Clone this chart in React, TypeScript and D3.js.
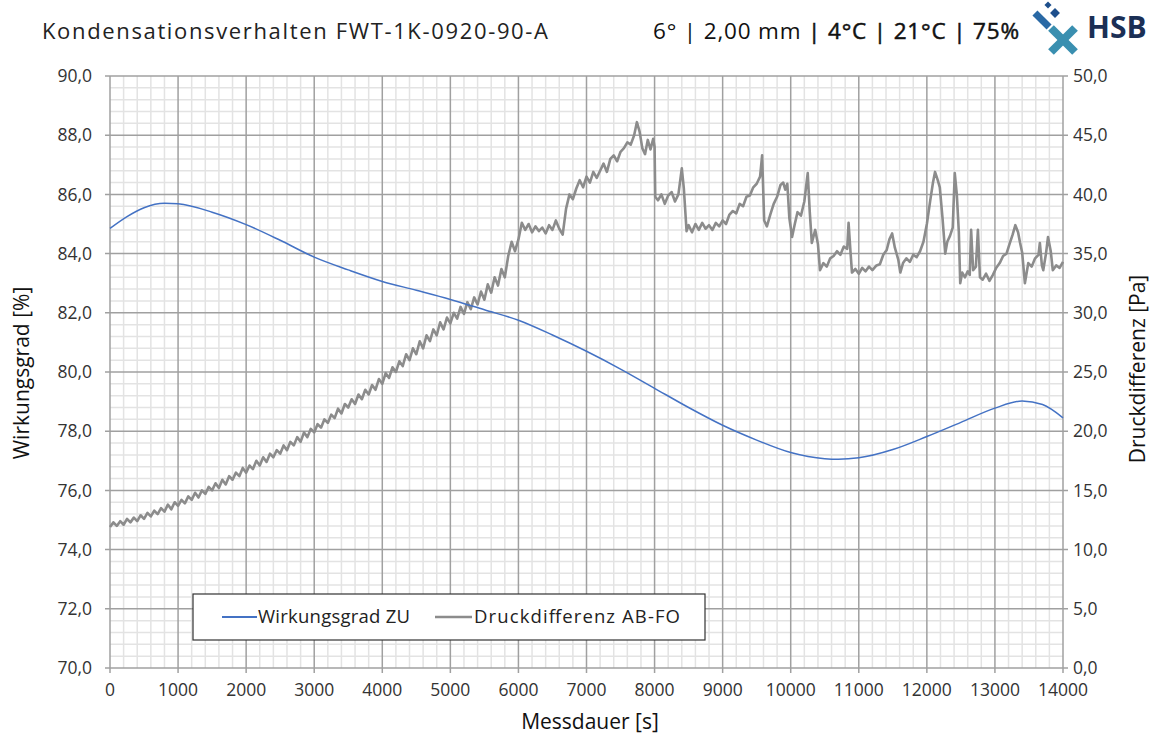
import React from 'react';
import * as d3 from 'd3';

// Wirkungsgrad ZU [%] over Messdauer [s]
const effTime = [0, 250, 500, 800, 1000, 1500, 2000, 2500, 3000, 3500, 4000, 4500, 5000, 5500, 6000, 6500, 7000, 7500, 8000, 8500, 9000, 9500, 10000, 10500, 10700, 11000, 11500, 12000, 12500, 13000, 13400, 13700, 14000];
const effValue = [84.85, 85.25, 85.55, 85.7, 85.68, 85.4, 84.98, 84.45, 83.88, 83.45, 83.06, 82.76, 82.45, 82.1, 81.75, 81.25, 80.7, 80.1, 79.45, 78.8, 78.2, 77.7, 77.28, 77.07, 77.05, 77.1, 77.38, 77.82, 78.3, 78.78, 79.02, 78.9, 78.45];

// Druckdifferenz AB-FO [Pa] over Messdauer [s]
const dpTime = [
  0, 50, 100, 150, 200, 250, 300, 350, 400, 450, 500, 550, 600, 650, 700, 750, 800, 850, 900, 950,
  1000, 1050, 1100, 1150, 1200, 1250, 1300, 1350, 1400, 1450, 1500, 1550, 1600, 1650, 1700, 1750, 1800, 1850, 1900, 1950,
  2000, 2050, 2100, 2150, 2200, 2250, 2300, 2350, 2400, 2450, 2500, 2550, 2600, 2650, 2700, 2750, 2800, 2850, 2900, 2950,
  3000, 3050, 3100, 3150, 3200, 3250, 3300, 3350, 3400, 3450, 3500, 3550, 3600, 3650, 3700, 3750, 3800, 3850, 3900, 3950,
  4000, 4050, 4100, 4150, 4200, 4250, 4300, 4350, 4400, 4450, 4500, 4550, 4600, 4650, 4700, 4750, 4800, 4850, 4900, 4950,
  5000, 5050, 5100, 5150, 5200, 5250, 5300, 5350, 5400, 5450, 5500, 5550, 5600, 5650, 5700, 5750, 5800, 5850, 5900, 5950,
  6000, 6050, 6100, 6150, 6200, 6250, 6300, 6350, 6400, 6450, 6500, 6550, 6600, 6650, 6700, 6750, 6800, 6850,
  6900, 6950, 7000, 7050, 7100, 7150, 7200, 7250, 7300, 7350, 7400, 7450, 7500, 7550, 7600, 7650, 7700, 7740, 7780, 7820,
  7860, 7900, 7940, 7980, 8000, 8010, 8050, 8100, 8150, 8200, 8250, 8300, 8350, 8400, 8430, 8470, 8500, 8550, 8600, 8650,
  8700, 8750, 8800, 8850, 8900, 8950, 9000, 9050, 9100, 9150, 9200, 9250, 9300, 9350, 9400, 9450, 9500, 9550, 9580, 9610,
  9650, 9700, 9750, 9800, 9850, 9890, 9920, 9950, 9980, 10020, 10060, 10100, 10150, 10200, 10250, 10280, 10310, 10360, 10400, 10430,
  10480, 10530, 10580, 10630, 10680, 10730, 10780, 10830, 10850, 10880, 10900, 10950, 11000, 11050, 11100, 11150, 11200, 11260, 11310, 11360,
  11410, 11450, 11490, 11530, 11580, 11610, 11650, 11700, 11750, 11800, 11850, 11900, 11950, 12000, 12050, 12090, 12120, 12160, 12190, 12230,
  12270, 12300, 12340, 12380, 12410, 12440, 12470, 12490, 12520, 12560, 12600, 12630, 12650, 12680, 12720, 12750, 12780, 12820, 12870, 12920,
  12970, 13020, 13070, 13120, 13170, 13220, 13260, 13300, 13340, 13370, 13400, 13440, 13490, 13540, 13590, 13640, 13660, 13690, 13710, 13750,
  13780, 13820, 13850, 13900, 13950, 14000,
];
const dpValue = [
  11.9, 12.3, 12.0, 12.4, 12.1, 12.6, 12.3, 12.7, 12.4, 12.9, 12.6, 13.1, 12.8, 13.3, 13.0, 13.5, 13.2, 13.8, 13.4, 14.0,
  13.7, 14.2, 13.9, 14.5, 14.2, 14.8, 14.4, 15.0, 14.7, 15.3, 15.0, 15.6, 15.2, 15.9, 15.5, 16.2, 15.9, 16.5, 16.2, 16.9,
  16.5, 17.1, 16.8, 17.5, 17.1, 17.8, 17.4, 18.1, 17.8, 18.4, 18.1, 18.8, 18.4, 19.1, 18.8, 19.5, 19.1, 19.9, 19.5, 20.2,
  19.9, 20.6, 20.3, 21.0, 20.7, 21.4, 21.1, 21.9, 21.5, 22.3, 22.0, 22.7, 22.3, 23.1, 22.7, 23.5, 23.1, 23.9, 23.5, 24.4,
  24.0, 24.9, 24.5, 25.4, 25.0, 25.9, 25.5, 26.5, 26.0, 27.0, 26.5, 27.6, 27.0, 28.1, 27.6, 28.6, 28.1, 29.2, 28.6, 29.6,
  29.1, 30.0, 29.5, 30.5, 29.9, 30.9, 30.3, 31.3, 30.7, 31.8, 31.1, 32.4, 31.7, 33.0, 32.3, 33.7, 33.0, 34.8, 36.0, 35.2,
  36.2, 37.6, 37.0, 37.5, 36.8, 37.3, 36.9, 37.2, 36.7, 37.4, 37.0, 37.8, 37.1, 36.6, 38.8, 40.0, 39.6, 40.5,
  41.2, 40.6, 41.5, 41.0, 41.9, 41.4, 42.0, 42.6, 41.9, 43.0, 43.3, 42.8, 43.6, 43.9, 44.4, 44.2, 45.0, 46.1, 45.3, 43.9,
  43.4, 44.6, 43.8, 44.7, 44.0, 39.8, 39.5, 40.0, 39.2, 39.9, 40.2, 39.4, 40.0, 42.2, 40.5, 36.9, 37.4, 36.8, 37.5, 37.0,
  37.6, 37.1, 37.4, 37.0, 37.6, 37.3, 37.8, 37.5, 38.3, 38.6, 38.4, 39.2, 39.0, 39.8, 39.9, 40.6, 40.9, 41.5, 43.3, 37.8,
  37.3, 38.3, 39.2, 39.8, 40.8, 41.0, 40.4, 40.9, 38.0, 36.4, 37.5, 38.5, 38.2, 39.4, 41.8, 38.5, 35.9, 37.0, 35.8, 33.6,
  34.2, 33.9, 34.6, 34.8, 35.2, 34.9, 35.6, 35.4, 37.6, 35.0, 33.4, 33.7, 33.3, 33.8, 33.5, 33.9, 33.6, 34.0, 34.1, 34.9,
  35.3, 36.2, 36.7, 35.5, 34.5, 33.4, 34.2, 34.6, 34.3, 34.9, 34.7, 35.2, 36.0, 37.5, 39.5, 41.0, 41.9, 41.2, 40.6, 38.0,
  35.0, 36.0, 36.5, 37.2, 41.8, 40.0, 36.8, 32.5, 33.4, 33.0, 33.5, 33.2, 37.0, 33.6, 33.9, 37.0, 33.0, 32.8, 33.3, 32.7,
  33.2, 33.8, 34.2, 34.8, 35.0, 35.9, 36.6, 37.4, 36.8, 35.9, 35.1, 32.5, 34.2, 33.9, 34.6, 34.9, 35.9, 34.0, 33.6, 35.0,
  36.4, 35.2, 33.6, 34.0, 33.8, 34.3,
];

const xTicks = [0, 1000, 2000, 3000, 4000, 5000, 6000, 7000, 8000, 9000, 10000, 11000, 12000, 13000, 14000];
const leftTicks = [70, 72, 74, 76, 78, 80, 82, 84, 86, 88, 90];
const rightTicks = [0, 5, 10, 15, 20, 25, 30, 35, 40, 45, 50];

const W = 1153;
const H = 738;
const M = {left: 110, right: 1063, top: 76, bottom: 668};
const FONT = '"Open Sans", sans-serif';
const BLUE = '#4472c4';
const GREY = '#8c8c8c';

const fmt = (v: number) => v.toFixed(1).replace('.', ',');

export default function App() {
  const x = d3.scaleLinear().domain([0, 14000]).range([M.left, M.right]);
  const yL = d3.scaleLinear().domain([70, 90]).range([M.bottom, M.top]);
  const yR = d3.scaleLinear().domain([0, 50]).range([M.bottom, M.top]);

  const effLine = d3
    .line<number>()
    .x((_, i) => x(effTime[i]))
    .y(d => yL(d))
    .curve(d3.curveMonotoneX);
  const dpLine = d3
    .line<number>()
    .x((_, i) => x(dpTime[i]))
    .y(d => yR(d));

  const minorX = d3.range(0, 14001, 200).filter(v => v % 1000 !== 0);
  const minorY = d3.range(70, 90.01, 0.4).filter(v => Math.abs(Math.round(v / 2) * 2 - v) > 0.01);

  return (
    <svg width={W} height={H} style={{position: 'absolute', left: 0, top: 0, background: '#fff'}} fontFamily={FONT}>
      <rect width={W} height={H} fill="#fff" />

      {/* header */}
      <text x={42} y={39} fontSize={22} fill="#222" textLength={506}>
        Kondensationsverhalten FWT-1K-0920-90-A
      </text>
      <text x={653} y={39} fontSize={22.5} fill="#111" textLength={366}>
        <tspan>6° | 2,00 mm </tspan>
        <tspan stroke="#111" strokeWidth={0.5}>| 4°C | 21°C | 75%</tspan>
      </text>
      <g>
        <rect x={1045.5} y={2.5} width={5} height={5} fill="#1d4f8c" transform="rotate(45 1048 5)" />
        <rect x={1051.5} y={9.5} width={7} height={7} fill="#1d4f8c" transform="rotate(45 1055 13)" />
        <rect x={1032} y={16.5} width={20} height={7} fill="#2a69a5" transform="rotate(45 1042 20)" />
        <rect x={1046} y={36} width={34} height={8} fill="#3a8fb0" transform="rotate(45 1063 40)" />
        <rect x={1046} y={36} width={34} height={8} fill="#3a8fb0" transform="rotate(-45 1063 40)" />
      </g>
      <text x={1087} y={38} fontSize={30} fontWeight={700} fill="#1b2f55">HSB</text>

      {/* minor grid */}
      {minorX.map(v => (
        <line key={'mx' + v} x1={x(v)} x2={x(v)} y1={M.top} y2={M.bottom} stroke="#e3e3e3" strokeWidth={1.5} />
      ))}
      {minorY.map(v => (
        <line key={'my' + v} x1={M.left} x2={M.right} y1={yL(v)} y2={yL(v)} stroke="#e3e3e3" strokeWidth={1.5} />
      ))}
      {/* major grid */}
      {xTicks.map(v => (
        <line key={'gx' + v} x1={x(v)} x2={x(v)} y1={M.top} y2={M.bottom + 5} stroke="#a0a0a0" strokeWidth={1.5} />
      ))}
      {leftTicks.map(v => (
        <line key={'gy' + v} x1={M.left - 5} x2={M.right + 5} y1={yL(v)} y2={yL(v)} stroke="#a0a0a0" strokeWidth={1.5} />
      ))}

      {/* series */}
      <path d={dpLine(dpValue) || ''} fill="none" stroke={GREY} strokeWidth={2.6} strokeLinejoin="round" />
      <path d={effLine(effValue) || ''} fill="none" stroke={BLUE} strokeWidth={1.5} />

      {/* axes labels */}
      {leftTicks.map(v => (
        <text key={'lt' + v} x={M.left - 18} y={yL(v)} dy="0.35em" textAnchor="end" fontSize={17.5} fill="#333">
          {fmt(v)}
        </text>
      ))}
      {rightTicks.map(v => (
        <text key={'rt' + v} x={M.right + 10} y={yR(v)} dy="0.35em" textAnchor="start" fontSize={17.5} fill="#333">
          {fmt(v)}
        </text>
      ))}
      {xTicks.map(v => (
        <text key={'xt' + v} x={x(v)} y={M.bottom + 28} textAnchor="middle" fontSize={17.5} fill="#333">
          {v}
        </text>
      ))}
      <text x={590} y={729} textAnchor="middle" fontSize={21} fill="#111">Messdauer [s]</text>
      <text transform={`translate(29 ${(M.top + M.bottom) / 2 + 1}) rotate(-90)`} textAnchor="middle" fontSize={21} fill="#111">
        Wirkungsgrad [%]
      </text>
      <text transform={`translate(1145 ${(M.top + M.bottom) / 2 - 3}) rotate(-90)`} textAnchor="middle" fontSize={21} fill="#111">
        Druckdifferenz [Pa]
      </text>

      {/* legend */}
      <rect x={193} y={594} width={512} height={46} fill="#fff" stroke="#333" strokeWidth={1.2} />
      <line x1={222} x2={257} y1={617} y2={617} stroke={BLUE} strokeWidth={2} />
      <text x={258} y={623} fontSize={18.5} fill="#222" textLength={152}>Wirkungsgrad ZU</text>
      <line x1={435} x2={472} y1={617} y2={617} stroke={GREY} strokeWidth={2.4} />
      <text x={474} y={623} fontSize={18.5} fill="#222" textLength={206}>Druckdifferenz AB-FO</text>
    </svg>
  );
}
